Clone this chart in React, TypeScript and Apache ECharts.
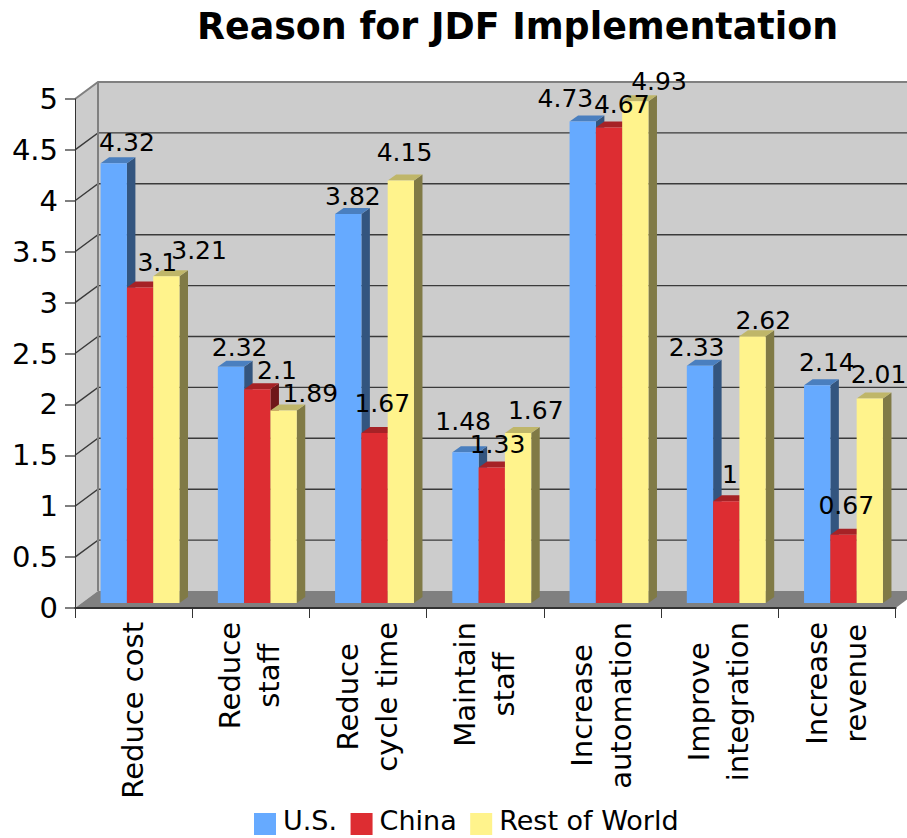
import React, { useEffect, useRef } from "react";
import * as echarts from "echarts";

const FONT = "'DejaVu Sans', Verdana, sans-serif";
const WIDTH = 907;
const HEIGHT = 838;

const categories = [
  "Reduce cost",
  "Reduce\nstaff",
  "Reduce\ncycle time",
  "Maintain\nstaff",
  "Increase\nautomation",
  "Improve\nintegration",
  "Increase\nrevenue",
];
const usValues = [4.32, 2.32, 3.82, 1.48, 4.73, 2.33, 2.14];
const chinaValues = [3.1, 2.1, 1.67, 1.33, 4.67, 1, 0.67];
const restValues = [3.21, 1.89, 4.15, 1.67, 4.93, 2.62, 2.01];
const yTicks = [0, 0.5, 1, 1.5, 2, 2.5, 3, 3.5, 4, 4.5, 5];

// Label placement relative to each bar's top centre, one row per series.
const usLabelShift = [[12.5, -21], [8, -19], [4, -18], [-3, -31], [-18, -23], [-4, -18], [9, -23]];
const chinaLabelShift = [[16.5, -25], [19, -19], [7, -29], [5, -23], [12, -23], [3, -27], [2, -29]];
const restLabelShift = [[32, -26], [26, -17], [3, -28], [17, -22], [23, -20], [10, -16], [8, -24]];

const seriesDefs = [
  { name: "U.S.", values: usValues, shifts: usLabelShift, front: "#66aaff", top: "#4a7fbf", side: "#33557f" },
  { name: "China", values: chinaValues, shifts: chinaLabelShift, front: "#dd2d32", top: "#a62226", side: "#6f1719" },
  { name: "Rest of World", values: restValues, shifts: restLabelShift, front: "#fff38c", top: "#bfb669", side: "#807a46" },
];

// Chart box depth and the smaller depth of the bars standing inside it.
const WALL_DX = 23;
const WALL_DY = 17;
const BAR_SHIFT_Y = 5;
const BAR_DX = 8.5;
const BAR_DY = 6;
const BAR_WIDTH = 26.3;
const GROUP_LEAD = 25.6;
const LABEL_LEAD = 26.3;
const LABEL_SIZE = 25;
const AXIS_SIZE = 29;
const CATEGORY_SIZE = 29;

// Legend swatch: a square sitting at the foot of its symbol box, so it lies a little below the text centre.
const LEGEND_ICON = "path://M0 0L0 0ZM0 8H22V30H0Z";

function poly(points: number[][], fill: string) {
  return { type: "polygon", shape: { points }, style: { fill, stroke: null } };
}

function renderChamber(params: any, api: any) {
  const { x, width } = params.coordSys;
  const right = x + width;
  const bottom = api.coord([0, 0])[1];
  const top = api.coord([0, 5])[1];
  const backX = x + WALL_DX;
  const children: any[] = [
    poly([[backX, top - WALL_DY], [WIDTH, top - WALL_DY], [WIDTH, bottom - WALL_DY], [backX, bottom - WALL_DY]], "#cccccc"),
    poly([[x, top], [backX, top - WALL_DY], [backX, bottom - WALL_DY], [x, bottom]], "#cccccc"),
  ];
  yTicks.slice(1, -1).forEach((t) => {
    const y = api.coord([0, t])[1];
    children.push({
      type: "polyline",
      shape: { points: [[x, y], [backX, y - WALL_DY], [WIDTH, y - WALL_DY]] },
      style: { fill: null, stroke: "#3a3a3a", lineWidth: 1.4 },
    });
  });
  const edge = { fill: null, stroke: "#808080", lineWidth: 2 };
  children.push(
    poly(
      [[x, bottom], [backX, bottom - WALL_DY], [WIDTH, bottom - WALL_DY], [WIDTH, bottom - WALL_DY + 8.5], [right, bottom]],
      "#808080",
    ),
    { type: "polyline", shape: { points: [[x, top], [backX, top - WALL_DY], [WIDTH, top - WALL_DY]] }, style: edge },
    { type: "line", shape: { x1: backX, y1: top - WALL_DY, x2: backX, y2: bottom - WALL_DY }, style: edge },
  );
  return { type: "group", children };
}

function makeBarRenderer(slot: number, def: (typeof seriesDefs)[number]) {
  return (params: any, api: any) => {
    const band = api.size([1, 0])[0];
    const top = api.coord([api.value(0), api.value(1)]);
    const base = api.coord([api.value(0), 0]);
    const left = top[0] - band / 2 + GROUP_LEAD + slot * BAR_WIDTH;
    const r = left + BAR_WIDTH;
    const yT = top[1] - BAR_SHIFT_Y;
    const yB = base[1] - BAR_SHIFT_Y;
    return {
      type: "group",
      children: [
        poly([[r, yT], [r + BAR_DX, yT - BAR_DY], [r + BAR_DX, yB - BAR_DY], [r, yB]], def.side),
        poly([[left, yT], [left + BAR_DX, yT - BAR_DY], [r + BAR_DX, yT - BAR_DY], [r, yT]], def.top),
        poly([[left, yT], [r, yT], [r, yB], [left, yB]], def.front),
      ],
    };
  };
}

function renderValueLabel(_params: any, api: any) {
  const category = api.value(0);
  const slot = api.value(2);
  const pos = api.coord([category, api.value(1)]);
  const band = api.size([1, 0])[0];
  const cx = pos[0] - band / 2 + LABEL_LEAD + (slot + 0.5) * BAR_WIDTH + api.value(3);
  const cy = pos[1] - BAR_SHIFT_Y + api.value(4);
  return {
    type: "text",
    x: cx,
    y: cy,
    style: {
      text: String(api.value(1)),
      font: `${LABEL_SIZE}px ${FONT}`,
      fill: "#000000",
      align: "center",
      verticalAlign: "middle",
    },
  };
}

// Longest line of a category name, used to hang the rotated block below the axis.
function longestLine(text: string): number {
  const ctx = document.createElement("canvas").getContext("2d")!;
  ctx.font = `${CATEGORY_SIZE}px ${FONT}`;
  return Math.max(...text.split("\n").map((l) => ctx.measureText(l).width));
}

function renderCategoryLabel(_params: any, api: any) {
  const i = api.value(0);
  const pos = api.coord([i, 0]);
  const text = categories[i];
  return {
    type: "text",
    x: pos[0] - 1,
    y: pos[1] + 14 + longestLine(text) / 2,
    rotation: Math.PI / 2,
    style: {
      text,
      font: `${CATEGORY_SIZE}px ${FONT}`,
      lineHeight: 39,
      fill: "#000000",
      align: "center",
      verticalAlign: "middle",
    },
  };
}

export default function App() {
  const ref = useRef<HTMLDivElement>(null);

  useEffect(() => {
    const chart = echarts.init(ref.current!, undefined, { renderer: "svg" });
    const labelData = seriesDefs.flatMap((def, slot) =>
      def.values.map((v, i) => [i, v, slot, def.shifts[i][0], def.shifts[i][1]]),
    );
    chart.setOption({
      animation: false,
      backgroundColor: "#ffffff",
      title: {
        text: "Reason for JDF Implementation",
        left: 512.5,
        top: 3,
        textAlign: "center",
        textStyle: { fontFamily: FONT, fontWeight: "bold", fontSize: 36.4, color: "#000000" },
      },
      legend: {
        data: seriesDefs.map((d) => d.name),
        left: 254,
        top: 805,
        padding: 0,
        itemWidth: 22,
        itemHeight: 30,
        itemGap: 13.5,
        icon: LEGEND_ICON,
        textStyle: { fontFamily: FONT, fontSize: 27, color: "#000000", padding: [0, 0, 0, 2] },
      },
      grid: { left: 75, top: 99, width: 820.7, height: 509 },
      xAxis: {
        type: "category",
        data: categories,
        z: 5,
        boundaryGap: true,
        axisLine: { lineStyle: { color: "#333333", width: 2 } },
        axisTick: { show: true, length: 10, lineStyle: { color: "#333333", width: 1 } },
        axisLabel: { show: false },
        splitLine: { show: false },
      },
      yAxis: {
        type: "value",
        min: 0,
        max: 5,
        interval: 0.5,
        z: 5,
        axisLine: { show: true, lineStyle: { color: "#333333", width: 1 } },
        axisTick: { show: true, length: 10, lineStyle: { color: "#555555", width: 1.5 } },
        axisLabel: {
          margin: 17,
          fontFamily: FONT,
          fontSize: AXIS_SIZE,
          color: "#000000",
          formatter: (v: number) => String(v),
        },
        splitLine: { show: false },
      },
      series: [
        { type: "custom", name: "chamber", z: 1, data: [[0, 0]], renderItem: renderChamber, silent: true },
        ...seriesDefs.map((def, slot) => ({
          type: "custom",
          name: def.name,
          z: 2,
          itemStyle: { color: def.front },
          data: def.values.map((v, i) => [i, v]),
          encode: { x: 0, y: 1 },
          renderItem: makeBarRenderer(slot, def),
        })),
        {
          type: "custom",
          name: "value labels",
          z: 3,
          data: labelData,
          encode: { x: 0, y: 1 },
          renderItem: renderValueLabel,
          silent: true,
        },
        {
          type: "custom",
          name: "category labels",
          z: 3,
          data: categories.map((_, i) => [i, 0]),
          encode: { x: 0, y: 1 },
          renderItem: renderCategoryLabel,
          silent: true,
        },
      ],
    });
    return () => chart.dispose();
  }, []);

  return (
    <div
      ref={ref}
      style={{ position: "absolute", left: 0, top: 0, width: WIDTH, height: HEIGHT }}
    />
  );
}
